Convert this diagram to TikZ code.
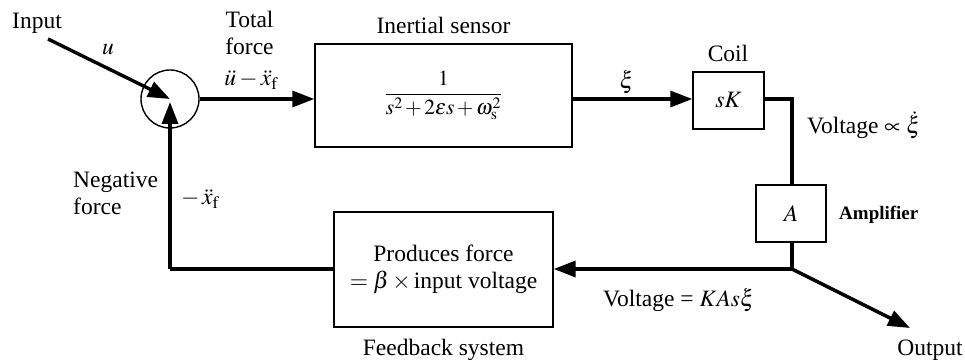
\documentclass[tikz,border=0pt]{standalone}
\usepackage{amsmath}
\usepackage{mathptmx}
\usepackage{fontspec}
\setmainfont{Liberation Serif}
\usetikzlibrary{arrows.meta}
\begin{document}
\begin{tikzpicture}[x=1pt,y=-1pt,
  every node/.style={font=\fontsize{23.5}{27}\selectfont, inner sep=0pt},
  box/.style={draw, line width=1.4pt},
  sig/.style={line width=3.4pt, -{Triangle[length=22pt,width=16pt]}},
  wire/.style={line width=3.4pt},
  lbl/.style={align=center}]
\useasboundingbox (0,0) rectangle (965,363);

% blocks
\node[draw, circle, line width=1.4pt, minimum size=58pt] (sum) at (170,99) {};
\node[box, minimum width=257pt, minimum height=103pt, font=\fontsize{21.5}{24}\selectfont] (sensor) at (443.5,95.5)
  {$\medmuskip=2mu\dfrac{1}{s^{2}+2\varepsilon s+\omega_{\mathrm{s}}^{2}}$};
\node[box, minimum width=71pt, minimum height=57pt] (coil) at (728.5,100.5) {$sK$};
\node[box, minimum width=70pt, minimum height=57pt] (amp) at (791,213.5) {$A$};
\node[box, minimum width=219pt, minimum height=115pt, align=center] (fb) at (443.5,269.5)
  {Produces force\\[0pt] $=\beta\times{}$input voltage};

\coordinate (in) at (48,39);
\coordinate (turn) at (792,99);
\coordinate (junc) at (792,269);
\coordinate (out) at (910,328);
\coordinate (fbturn) at (170,269);

% connectors
\draw[sig] (in) -- (sum.center);
\draw[sig] (sum.east) -- (sum.east -| sensor.west);
\draw[sig] (sensor.east |- 0,99) -- (coil.west |- 0,99);
\draw[wire] (coil.east |- turn) -- (turn) -- (amp.north -| turn);
\draw[wire] (amp.south -| junc) -- (junc);
\draw[sig] (junc) -- (junc -| fb.east);
\draw[sig] (junc) -- (out);
\draw[wire] (fb.west |- fbturn) -- (fbturn);
\draw[sig] (fbturn) -- ([yshift=-3pt]sum.center);

% labels
\node (tin) at (37,23) {Input};
\node (tu) at (108,50) {$u$};
\node[lbl] (ttot) at (249.5,33) {Total\\force};
\node (tsum) at (251,80) {$\ddot u-\ddot x_{\mathrm f}$};
\node (tsen) at (443.5,25) {Inertial sensor};
\node (txi) at (627,82) {$\xi$};
\node (tcoil) at (728,53) {Coil};
\node[anchor=west] (tv1) at (807,125) {Voltage $\propto\dot\xi$};
\node[anchor=west, font=\fontsize{19}{22}\selectfont\bfseries] (tamp) at (839,215) {Amplifier};
\node[anchor=west, align=left] (tneg) at (73,193) {Negative\\force};
\node[anchor=west] (txf) at (181,199) {$-\,\ddot x_{\mathrm f}$};
\node[anchor=west] (tv2) at (603,300) {Voltage = $KAs\xi$};
\node (tfbs) at (443.5,350) {Feedback system};
\node (tout) at (930,350) {Output};
\end{tikzpicture}
\end{document}
